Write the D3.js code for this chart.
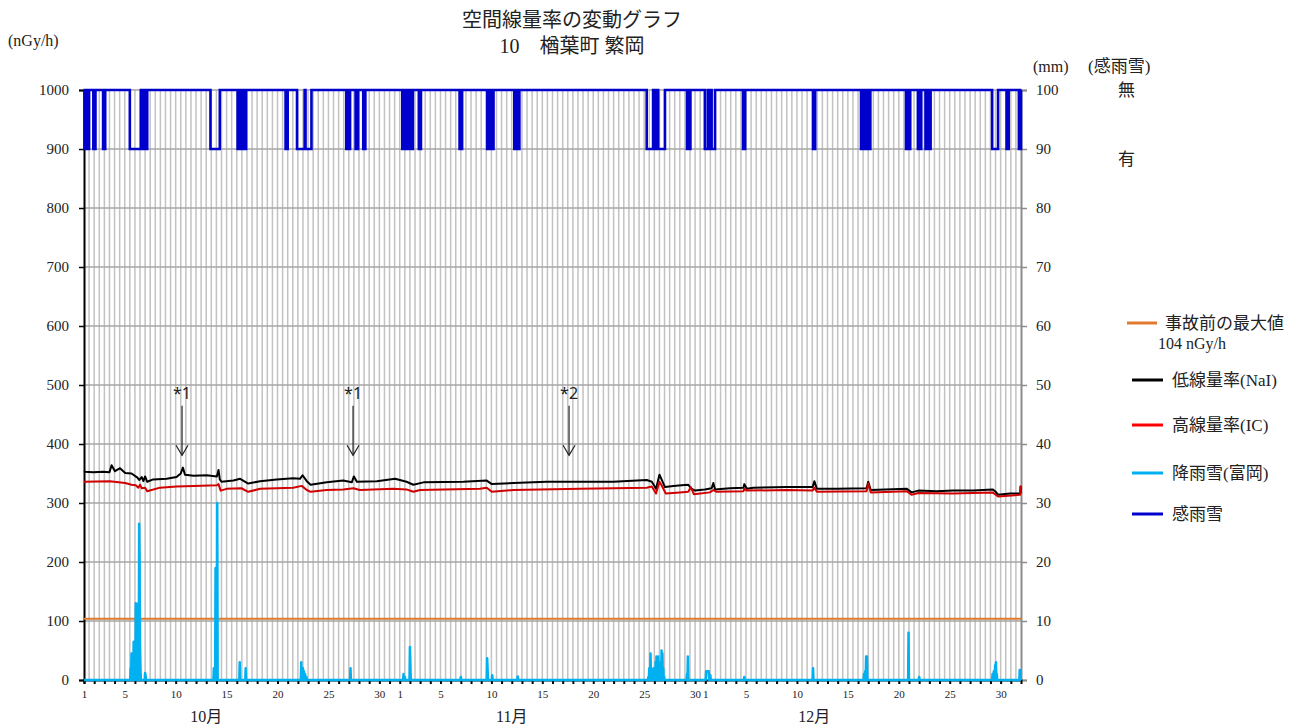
<!DOCTYPE html>
<html><head><meta charset="utf-8">
<script src="https://d3js.org/d3.v7.min.js"></script>
<style>
body{margin:0;background:#fff;}
svg{display:block;}
text{fill:#222;}
</style></head>
<body>
<script>
// ---------- DATA (hours counted from 10/1 00:00) ----------
const titleLines = ["空間線量率の変動グラフ", "10\u3000楢葉町 繁岡"];
const leftTicks = [0,100,200,300,400,500,600,700,800,900,1000];
const rightTicks = [0,10,20,30,40,50,60,70,80,90,100];
const dayLabels = [1,5,10,15,20,25,30];
const monthLabels = [["10月", 12*24], ["11月", 42*24], ["12月", 71.7*24]];
const preAccidentMax = 104;

// 低線量率(NaI) [hour, nGy/h]
const naiPoints = [[0,354],[2,353],[22,352],[45,353],[60,352],[65,364],[73,354],[85,359],[97,351],[112,350],[126,343],[130,339],[136,344],[140,337],[144,345],[149,336],[163,340],[195,341],[218,344],[228,350],[233,360],[238,348],[258,346],[289,347],[313,345],[317,356],[320,340],[324,336],[352,338],[368,341],[387,333],[415,337],[454,340],[493,342],[509,341],[515,347],[525,337],[534,331],[572,335],[611,338],[631,335],[636,345],[643,336],[690,337],[733,341],[760,336],[776,331],[800,335],[894,336],[949,338],[961,332],[1012,334],[1090,336],[1169,336],[1247,336],[1326,339],[1338,336],[1348,324],[1356,348],[1361,340],[1369,327],[1389,329],[1408,330],[1424,331],[1430,325],[1440,321],[1463,323],[1479,325],[1483,334],[1487,323],[1522,325],[1554,326],[1556,332],[1562,324],[1577,326],[1656,327],[1717,327],[1721,337],[1727,324],[1774,324],[1844,325],[1848,336],[1854,322],[1939,324],[1950,318],[1966,321],[2009,320],[2048,321],[2096,321],[2141,323],[2147,320],[2154,314],[2182,316],[2206,316],[2207,328],[2208,318]];

// 高線量率(IC) [hour, nGy/h]
const icPoints = [[0,336],[2,336],[61,337],[97,334],[112,331],[122,330],[128,326],[132,331],[136,325],[144,326],[149,320],[179,326],[218,328],[258,329],[313,330],[317,332],[322,321],[336,324],[371,325],[387,319],[415,324],[493,326],[513,329],[525,322],[534,319],[572,322],[611,323],[635,325],[650,322],[729,324],[760,323],[776,319],[792,322],[933,324],[949,326],[961,319],[1012,322],[1169,324],[1326,326],[1338,328],[1348,316],[1356,336],[1361,330],[1371,316],[1404,318],[1424,319],[1430,327],[1437,315],[1475,318],[1483,322],[1491,319],[1554,320],[1556,324],[1562,321],[1656,322],[1717,321],[1721,326],[1727,319],[1844,320],[1848,333],[1854,318],[1939,320],[1950,314],[1966,317],[2048,316],[2141,318],[2154,311],[2206,314],[2207,328],[2208,316]];

// 降雨雪(富岡) hourly rainfall [hour, mm] (other hours 0)
const rainPoints = [[110,2],[112,4.5],[114,3],[117,6.5],[119,4],[122,13],[124,12],[126,7],[128,13],[130,26.5],[131,20],[132,6],[133,2],[144,1.2],[145,0.8],
 [306,2],[307,1],[310,19],[312,19],[314,30],
 [367,3],[381,2],
 [512,3],[514,1.5],[516,2],[518,1.5],[521,1],[524,0.5],
 [628,2],
 [753,1],[756,0.5],[768,5.6],[769,3],
 [888,0.5],[950,3.7],[951,2],[962,0.8],[1022,0.6],
 [1330,0.5],[1332,2],[1335,4.5],[1337,2],[1340,0.5],[1343,2],[1347,3],[1349,4],[1351,2],[1353,4],[1356,2.5],[1358,3],[1361,5],[1363,4.5],[1365,2],[1367,0.5],
 [1421,1],[1423,4],
 [1466,1.5],[1467,1.5],[1468,1.5],[1469,1.5],[1470,1.5],[1471,1.5],[1472,1.5],[1474,0.5],[1476,0.8],
 [1556,0.5],[1718,2],
 [1838,1],[1841,1.5],[1843,4],[1845,4],
 [1943,8],[1968,0.5],
 [2141,1],[2144,1.5],[2147,2.5],[2149,3],[2151,1],
 [2205,1.7],[2206,1.7]];

// 感雨雪 "有" periods [startHour, endHour]
const sensorOn = [[1,2],[7,8],[10,12],[22,23],[25,27],[45,46],[48,50],
 [108,134],[137,138],[140,141],[143,145],[147,149],
 [298,320],[362,363],[365,367],[369,370],[372,374],[380,382],
 [475,476],[479,480],[502,520],[522,536],
 [618,620],[622,623],[625,627],[640,641],[643,646],[658,659],[661,663],
 [750,751],[753,754],[756,759],[765,766],[768,770],[772,775],
 [789,790],[792,794],[885,886],[889,891],
 [950,951],[953,955],[957,958],[960,962],[963,965],
 [1014,1015],[1017,1018],[1020,1021],[1023,1026],
 [1326,1341],[1343,1344],[1346,1347],[1349,1352],[1353,1369],
 [1421,1422],[1424,1425],[1427,1429],
 [1463,1470],[1472,1473],[1475,1477],[1479,1487],
 [1553,1554],[1556,1558],[1718,1719],[1721,1723],
 [1831,1832],[1834,1835],[1837,1840],[1845,1846],[1848,1849],[1851,1853],
 [1937,1941],[1943,1947],[1965,1966],[1968,1969],[1971,1973],
 [1983,1984],[1986,1987],[1989,1990],[1993,1995],
 [2140,2154],[2174,2175],[2177,2179],[2203,2204],[2206,2208]];

// annotations [label, hour]
const notes = [["*1",231],["*1",634],["*2",1143]];

// legend
const legendItems = [
 {label:"事故前の最大値", sub:"104 nGy/h", color:"#E07A2E"},
 {label:"低線量率(NaI)", color:"#000000"},
 {label:"高線量率(IC)", color:"#FF0000"},
 {label:"降雨雪(富岡)", color:"#00B0F0"},
 {label:"感雨雪", color:"#0000CC"}];

// ---------- DRAW ----------
const W = 1303, H = 727;
const START = Date.UTC(2022, 9, 1);
const TOTAL_H = 92*24;
const hd = h => new Date(START + h*3600e3);
const x = d3.scaleUtc().domain([hd(0), hd(TOTAL_H)]).range([84, 1021]);
const yL = d3.scaleLinear().domain([0,1000]).range([680, 90]);
const yR = d3.scaleLinear().domain([0,100]).range([680, 90]);
const serif = "'Liberation Serif','Noto Sans CJK JP',serif";
const cjk = "'Liberation Serif','Noto Sans CJK JP',sans-serif";

const svg = d3.select("body").append("svg").attr("width", W).attr("height", H);

// vertical grid (every 12 h)
const vgrid = d3.range(12, TOTAL_H, 12);
svg.append("g").selectAll("line").data(vgrid).join("line")
  .attr("x1", h => x(hd(h))).attr("x2", h => x(hd(h)))
  .attr("y1", yL(1000)).attr("y2", yL(0))
  .attr("stroke", "#c2c2c2").attr("stroke-width", 1.5);
// horizontal grid
svg.append("g").selectAll("line").data(leftTicks.filter(v => v > 0)).join("line")
  .attr("x1", 84).attr("x2", 1021)
  .attr("y1", v => yL(v)).attr("y2", v => yL(v))
  .attr("stroke", "#a6a6a6").attr("stroke-width", 1.5);

// right axis
const gR = svg.append("g").attr("transform", "translate(1021,0)")
  .call(d3.axisRight(yR).tickValues(rightTicks).tickSize(6).tickPadding(9).tickFormat(d3.format("d")));
gR.select(".domain").attr("stroke", "#8c8c8c").attr("stroke-width", 2);
gR.selectAll(".tick line").attr("stroke", "#8c8c8c").attr("stroke-width", 1.5);
gR.selectAll("text").attr("font-family", serif).attr("font-size", 15).attr("fill", "#222");

// left axis
const gL = svg.append("g").attr("transform", "translate(84,0)")
  .call(d3.axisLeft(yL).tickValues(leftTicks).tickSize(5).tickPadding(10).tickFormat(d3.format("d")));
gL.select(".domain").attr("stroke", "#000").attr("stroke-width", 2);
gL.selectAll(".tick line").attr("stroke", "#000").attr("stroke-width", 1.5);
gL.selectAll("text").attr("font-family", serif).attr("font-size", 15).attr("fill", "#222");

// bottom axis
const days = d3.utcDay.range(hd(0), hd(TOTAL_H));
const gB = svg.append("g").attr("transform", "translate(0,680)")
  .call(d3.axisBottom(x).tickValues(days).tickSize(4).tickPadding(6)
    .tickFormat(d => dayLabels.includes(d.getUTCDate()) ? d.getUTCDate() : ""));
gB.select(".domain").attr("stroke", "#000").attr("stroke-width", 2);
gB.selectAll(".tick line").attr("stroke", "#000").attr("stroke-width", 2);
gB.selectAll("text").attr("font-family", serif).attr("font-size", 11).attr("fill", "#222");

svg.append("g").selectAll("text").data(monthLabels).join("text")
  .attr("x", d => x(hd(d[1]))).attr("y", 722).attr("text-anchor", "middle")
  .attr("font-family", cjk).attr("font-size", 16).text(d => d[0]);

// pre-accident maximum
svg.append("line").attr("x1", 84).attr("x2", 1021)
  .attr("y1", yL(preAccidentMax)).attr("y2", yL(preAccidentMax))
  .attr("stroke", "#E07A2E").attr("stroke-width", 2);

// dose rate lines
const doseLine = d3.line().x(d => x(hd(d[0]))).y(d => yL(d[1]));
svg.append("path").datum(naiPoints).attr("d", doseLine)
  .attr("fill", "none").attr("stroke", "#000").attr("stroke-width", 2).attr("stroke-linejoin", "round");
svg.append("path").datum(icPoints).attr("d", doseLine)
  .attr("fill", "none").attr("stroke", "#D00000").attr("stroke-width", 2).attr("stroke-linejoin", "round");

// rain (hourly)
const rainMap = new Map(rainPoints);
const rainHourly = d3.range(0, TOTAL_H + 1).map(h => [h, rainMap.get(h) || 0]);
svg.append("path").datum(rainHourly)
  .attr("d", d3.line().x(d => x(hd(d[0]))).y(d => yR(d[1])))
  .attr("fill", "none").attr("stroke", "#00B0F0").attr("stroke-width", 2.5).attr("stroke-linejoin", "round");

// sensor step line
const sensorPath = [[0,1000]];
sensorOn.forEach(([s, e]) => { sensorPath.push([s,1000],[s,900],[e,900],[e,1000]); });
sensorPath.push([TOTAL_H,1000]);
svg.append("path").datum(sensorPath)
  .attr("d", d3.line().x(d => x(hd(d[0]))).y(d => yL(d[1])))
  .attr("fill", "none").attr("stroke", "#0000CC").attr("stroke-width", 2.6);

// annotations
const gN = svg.append("g").selectAll("g").data(notes).join("g");
gN.append("text").attr("x", d => x(hd(d[1]))).attr("y", yL(477)).attr("text-anchor", "middle")
  .attr("font-family", "'Noto Sans',sans-serif").attr("font-size", 16).text(d => d[0]);
gN.append("line").attr("x1", d => x(hd(d[1]))).attr("x2", d => x(hd(d[1])))
  .attr("y1", yL(465)).attr("y2", yL(381)).attr("stroke", "#222").attr("stroke-width", 1.2);
gN.append("path").attr("d", d => {
    const cx = x(hd(d[1])), ty = yL(381);
    return `M${cx-6},${ty-10}L${cx},${ty}L${cx+6},${ty-10}`;
  }).attr("fill", "none").attr("stroke", "#222").attr("stroke-width", 1.2);

// titles and axis captions
svg.append("g").selectAll("text").data(titleLines).join("text")
  .attr("x", 572).attr("y", (d, i) => 27 + i*26).attr("text-anchor", "middle")
  .attr("font-family", cjk).attr("font-size", 20).text(d => d);
svg.append("text").attr("x", 8).attr("y", 46).attr("font-family", serif).attr("font-size", 16).text("(nGy/h)");
svg.append("text").attr("x", 1033).attr("y", 72).attr("font-family", serif).attr("font-size", 16).text("(mm)");
svg.append("text").attr("x", 1088).attr("y", 72).attr("font-family", cjk).attr("font-size", 17).text("(感雨雪)");
svg.append("text").attr("x", 1118).attr("y", yL(1000) + 6).attr("font-family", cjk).attr("font-size", 17).text("無");
svg.append("text").attr("x", 1118).attr("y", yL(900) + 16).attr("font-family", cjk).attr("font-size", 17).text("有");

// legend
const legY = [323, 380, 425, 473, 514];
const gLeg = svg.append("g").selectAll("g").data(legendItems).join("g");
gLeg.append("line").attr("x1", (d, i) => i === 0 ? 1127 : 1132).attr("x2", (d, i) => i === 0 ? 1157 : 1163)
  .attr("y1", (d, i) => legY[i]).attr("y2", (d, i) => legY[i])
  .attr("stroke", d => d.color).attr("stroke-width", 3);
gLeg.append("text").attr("x", (d, i) => i === 0 ? 1165 : 1172).attr("y", (d, i) => legY[i] + 6)
  .attr("font-family", cjk).attr("font-size", 17).text(d => d.label);
gLeg.filter(d => d.sub).append("text").attr("x", 1158).attr("y", 349)
  .attr("font-family", serif).attr("font-size", 16).text(d => d.sub);
</script>
</body></html>
